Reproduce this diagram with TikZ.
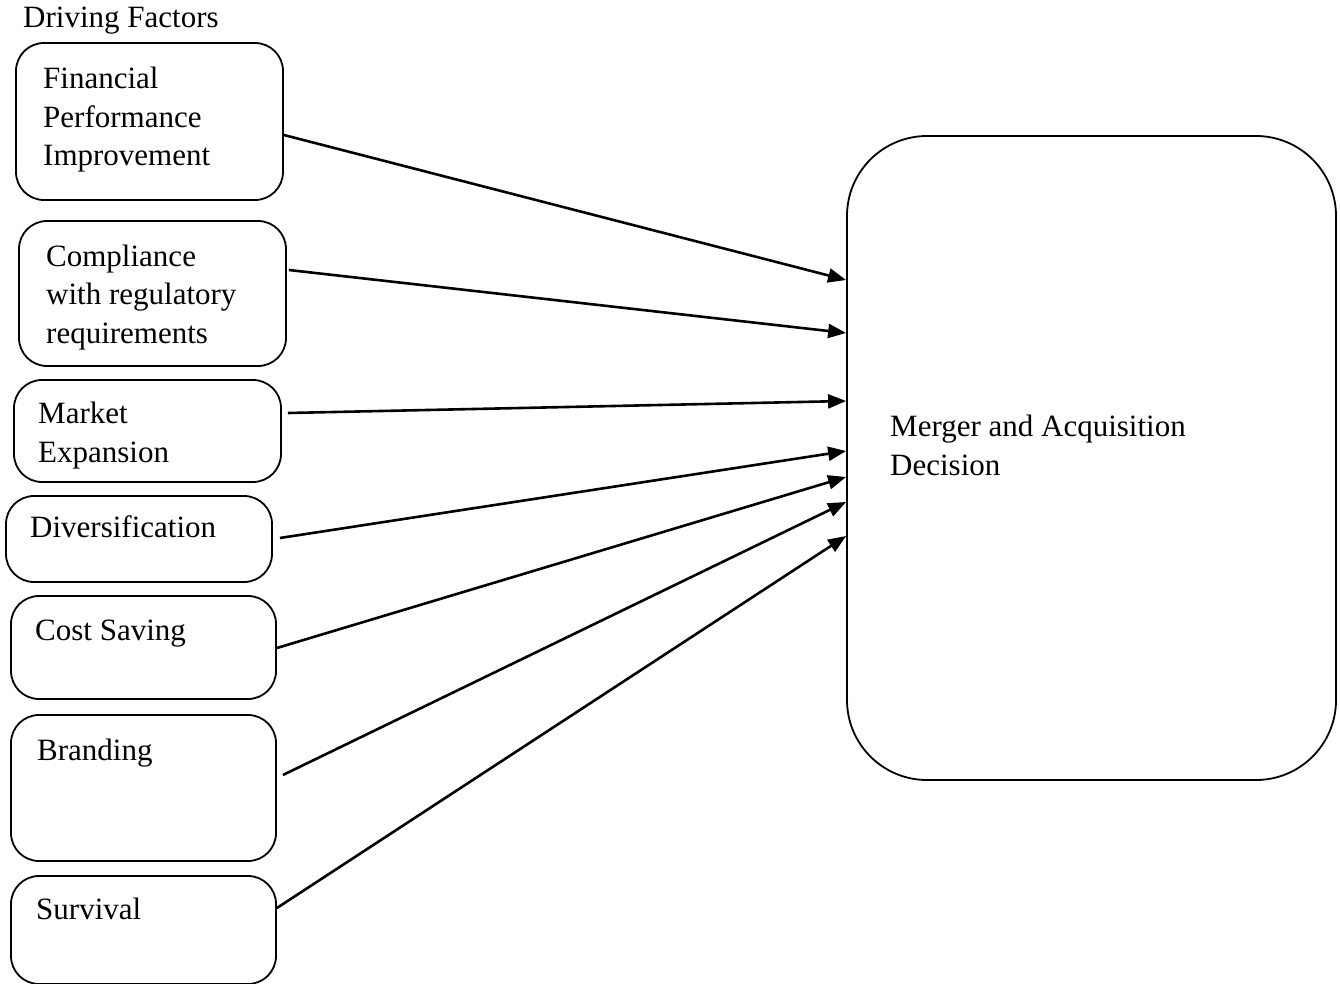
\documentclass[tikz,border=0pt]{standalone}
\usepackage{fontspec}
\setmainfont{Liberation Serif}
\usetikzlibrary{arrows.meta}
\begin{document}
\begin{tikzpicture}[x=1pt,y=-1pt,
  fbox/.style={draw,line width=1.8pt,rounded corners=28pt},
  bigbox/.style={draw,line width=1.8pt,rounded corners=80pt},
  lbl/.style={anchor=base west,inner sep=0pt,align=left,font=\fontsize{31}{38.5}\selectfont},
  arr/.style={line width=2.6pt,-{Triangle[length=18pt,width=14pt]}}]
\useasboundingbox (0,0) rectangle (1340,984);
% boxes
\node[fbox,minimum width=267pt,minimum height=157pt] (b1) at (149.5,121.5) {};
\node[fbox,minimum width=267pt,minimum height=145pt] (b2) at (152.5,293.5) {};
\node[fbox,minimum width=267pt,minimum height=102pt] (b3) at (147.5,431) {};
\node[fbox,minimum width=266pt,minimum height=86pt] (b4) at (139,539) {};
\node[fbox,minimum width=265pt,minimum height=103pt] (b5) at (143.5,647.5) {};
\node[fbox,minimum width=265pt,minimum height=146pt] (b6) at (143.5,788) {};
\node[fbox,minimum width=265pt,minimum height=108pt] (b7) at (143.5,930) {};
\node[bigbox,minimum width=489pt,minimum height=644pt] (m) at (1091.5,458) {};
% texts (base anchor = baseline of last line)
\node[lbl] (title) at (23,28) {Driving Factors};
\node[lbl] (t1) at (43,166) {Financial\\Performance\\Improvement};
\node[lbl] (t2) at (46,343) {Compliance\\with regulatory\\requirements};
\node[lbl] (t3) at (38,462) {Market\\Expansion};
\node[lbl] (t4) at (30,537) {Diversification};
\node[lbl] (t5) at (35,640) {Cost Saving};
\node[lbl] (t6) at (37,760) {Branding};
\node[lbl] (t7) at (36,919) {Survival};
\node[lbl] (tm) at (890,475) {Merger and Acquisition\\Decision};
% arrows
\draw[arr] ([yshift=-13.5pt]b1.east) -- ([yshift=178pt]m.west);
\draw[arr] ([xshift=2pt,yshift=23.5pt]b2.east) -- ([yshift=125pt]m.west);
\draw[arr] ([xshift=6pt,yshift=18pt]b3.east) -- ([yshift=57pt]m.west);
\draw[arr] ([xshift=7pt,yshift=1pt]b4.east) -- ([yshift=7pt]m.west);
\draw[arr] ([yshift=-0.5pt]b5.east) -- ([yshift=-19pt]m.west);
\draw[arr] ([xshift=6pt,yshift=13pt]b6.east) -- ([yshift=-44pt]m.west);
\draw[arr] ([yshift=22pt]b7.east) -- ([yshift=-78pt]m.west);
\end{tikzpicture}
\end{document}
